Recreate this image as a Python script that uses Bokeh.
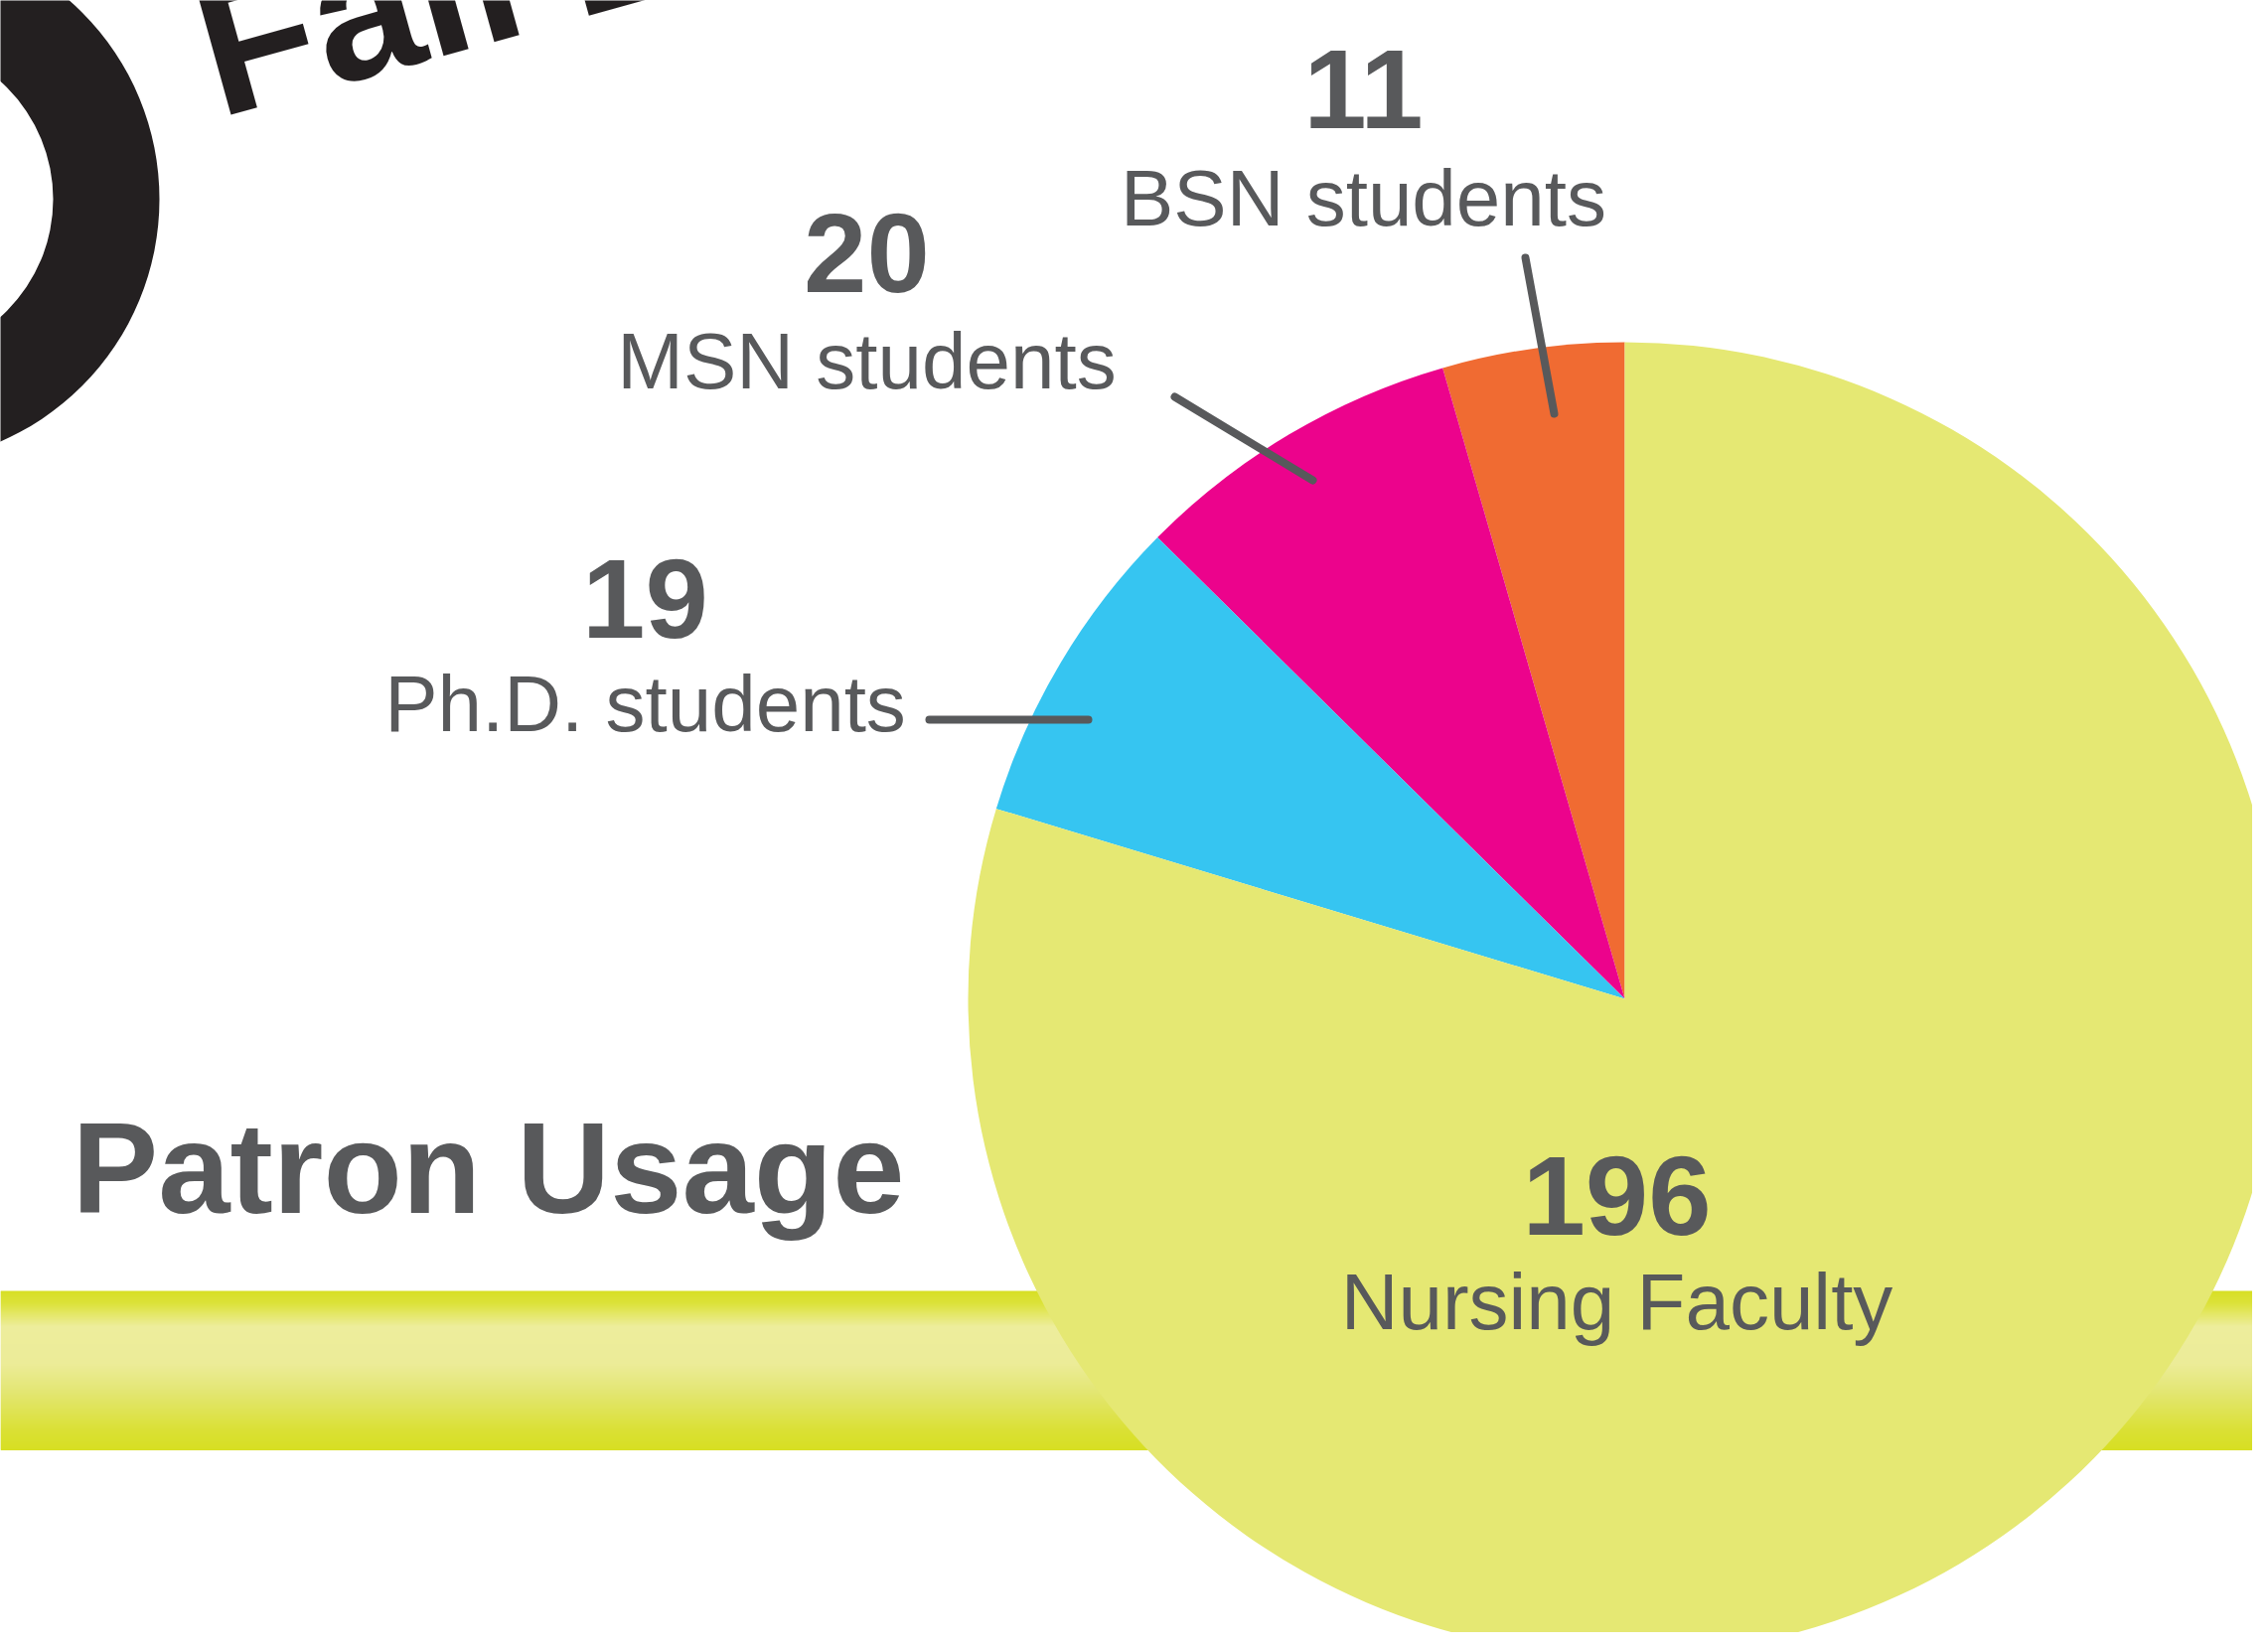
import numpy as np
from bokeh.plotting import figure
from bokeh.models import Range1d, ColumnDataSource
from bokeh.core.properties import value
from bokeh.embed import file_html
from bokeh.resources import INLINE

# ---------------- data ----------------
categories = ["BSN students", "MSN students", "Ph.D. students", "Nursing Faculty"]
counts = [11, 20, 19, 196]
slice_colors = ["#F06B32", "#EC038C", "#36C5F1", "#E5E873"]
title_text = "Patron Usage"
header_text = "Fall 2"

# ---------------- layout (reference pixel coordinates) ----------------
W, H = 2267, 1643
CX, CY, R = 1635, 1005, 661
# label anchors: (center x, baseline y of number, baseline y of label)
label_pos = {
    "BSN students": (1372, 128, 226),
    "MSN students": (872, 293, 390),
    "Ph.D. students": (649, 641, 735),
    "Nursing Faculty": (1627, 1242, 1337),
}
leaders = {
    "BSN students": ((1535, 259), (1564, 416)),
    "MSN students": ((1182, 399), (1321, 483)),
    "Ph.D. students": ((935, 724), (1095, 724)),
}
NUM_SIZE, LAB_SIZE, TITLE_SIZE = 114, 80, 130
BASE_K = 0.34  # renderer baseline compensation, in em
GREY = "#58595B"
BLACK = "#231F20"
FONT = "Liberation Sans"


def Y(v):
    return -v


p = figure(width=W, height=H, output_backend="svg", toolbar_location=None,
           x_range=Range1d(0, W), y_range=Range1d(-H, 0),
           min_border=0, background_fill_color="white", border_fill_color="white",
           outline_line_color=None)
p.axis.visible = False
p.grid.visible = False

# ---------------- decorative ring & header ----------------
p.annulus(x=[-106], y=[Y(200)], inner_radius=159, outer_radius=266,
          fill_color=BLACK, line_color=None)
p.text(x=[202], y=[Y(55)], text=[header_text], angle=np.deg2rad(15.5),
       text_font=value(FONT), text_font_style="bold", text_font_size="190px",
       text_color=BLACK, text_align="left", text_baseline="alphabetic")

# ---------------- gradient band ----------------
stops_y = [1299, 1312, 1335, 1372, 1400, 1440, 1459]
stops_c = [(0xD7, 0xDF, 0x23), (0xDC, 0xE2, 0x3C), (0xED, 0xED, 0x9C),
           (0xEC, 0xEC, 0x98), (0xE3, 0xE6, 0x74), (0xDA, 0xE0, 0x34),
           (0xD7, 0xDF, 0x23)]
ys = np.arange(1299, 1459)
cols = []
for yy in ys:
    rgb = [int(round(np.interp(yy + 0.5, stops_y, [c[i] for c in stops_c]))) for i in range(3)]
    cols.append("#%02X%02X%02X" % tuple(rgb))
p.quad(left=[0] * len(ys), right=[W] * len(ys),
       top=[Y(v) for v in ys], bottom=[Y(v + 1.6) for v in ys],
       fill_color=cols, line_color=None)

# ---------------- pie ----------------
vals = np.array(counts, dtype=float)
frac = vals / vals.sum()
ends = np.pi / 2 + np.cumsum(frac) * 2 * np.pi
starts = ends - frac * 2 * np.pi
src = ColumnDataSource(dict(cat=categories, start=starts, end=ends, color=slice_colors))
p.wedge(x=CX, y=Y(CY), radius=R, start_angle="start", end_angle="end",
        direction="anticlock", fill_color="color", line_color=None, source=src)

# ---------------- leader lines ----------------
for cat, ((x0, y0), (x1, y1)) in leaders.items():
    p.line([x0, x1], [Y(y0), Y(y1)], line_color=GREY, line_width=8, line_cap="round")

# ---------------- labels ----------------
for cat, n in zip(categories, counts):
    cx, ny, ly = label_pos[cat]
    p.text(x=[cx], y=[Y(ny - BASE_K * NUM_SIZE)], text=[str(n)], text_font=value(FONT),
           text_font_style="bold", text_font_size=f"{NUM_SIZE}px", text_color=GREY,
           text_align="center", text_baseline="alphabetic")
    p.text(x=[cx], y=[Y(ly - BASE_K * LAB_SIZE)], text=[cat], text_font=value(FONT),
           text_font_size=f"{LAB_SIZE}px", text_color=GREY,
           text_align="center", text_baseline="alphabetic")

p.text(x=[72], y=[Y(1220 - BASE_K * TITLE_SIZE)], text=[title_text], text_font=value(FONT),
       text_font_style="bold", text_font_size=f"{TITLE_SIZE}px", text_color=GREY,
       text_align="left", text_baseline="alphabetic")

open("out.html", "w").write(file_html(p, INLINE))
